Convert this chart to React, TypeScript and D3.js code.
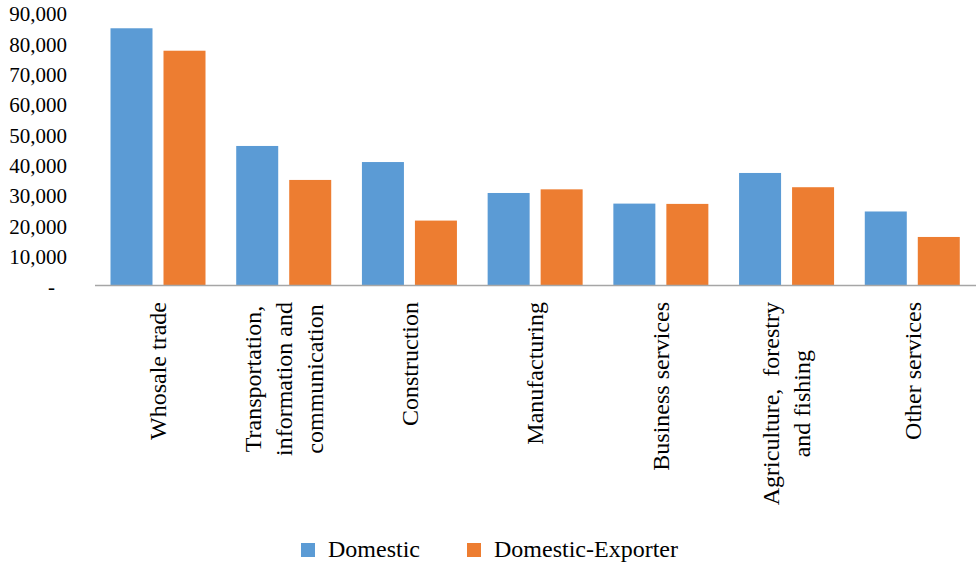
import React, { useEffect, useRef } from "react";
import * as d3 from "d3";

const categories: string[][] = [
  ["Whosale trade"],
  ["Transportation,", "information and", "communication"],
  ["Construction"],
  ["Manufacturing"],
  ["Business services"],
  ["Agriculture,  forestry", "and fishing"],
  ["Other services"],
];
const seriesNames = ["Domestic", "Domestic-Exporter"];
const domestic = [84800, 46000, 40700, 30500, 27000, 37100, 24400];
const domesticExporter = [77400, 34800, 21400, 31700, 26900, 32400, 16000];
const yTicks = [0, 10000, 20000, 30000, 40000, 50000, 60000, 70000, 80000, 90000];
const colors = ["#5b9bd5", "#ed7d31"];

const FONT = "'Liberation Serif', 'Times New Roman', serif";

export default function App() {
  const ref = useRef<SVGSVGElement | null>(null);

  useEffect(() => {
    const svg = d3.select(ref.current);
    svg.selectAll("*").remove();

    const W = 976;
    const baseY = 285.5;
    const y = d3.scaleLinear().domain([0, 90000]).range([baseY, 12.5]);
    const keys = categories.map((c) => c.join(" "));
    const x0 = d3.scaleBand<string>().domain(keys).range([95, 975]).padding(0);
    const x1 = d3
      .scaleBand<string>()
      .domain(seriesNames)
      .range([15.5, 110.5])
      .paddingInner(11 / 53)
      .paddingOuter(0);

    const data = [domestic, domesticExporter];

    // y tick labels
    svg
      .append("g")
      .selectAll("text")
      .data(yTicks)
      .join("text")
      .attr("x", (d) => (d === 0 ? 55 : 67))
      .attr("y", (d) => y(d) + 1.5)
      .attr("dy", "0.35em")
      .attr("text-anchor", "end")
      .attr("font-family", FONT)
      .attr("font-size", 21)
      .attr("fill", "#000")
      .text((d) => (d === 0 ? "-" : d3.format(",")(d)));

    // bars
    const groups = svg
      .append("g")
      .selectAll("g")
      .data(keys)
      .join("g")
      .attr("transform", (d) => `translate(${x0(d)},0)`);

    groups
      .selectAll("rect")
      .data((_, i) => seriesNames.map((s, si) => ({ s, si, v: data[si][i] })))
      .join("rect")
      .attr("x", (d) => x1(d.s)!)
      .attr("width", x1.bandwidth())
      .attr("y", (d) => y(d.v))
      .attr("height", (d) => baseY - y(d.v))
      .attr("fill", (d) => colors[d.si]);

    // axis line
    svg
      .append("line")
      .attr("x1", 95)
      .attr("x2", W)
      .attr("y1", baseY)
      .attr("y2", baseY)
      .attr("stroke", "#a6a6a6")
      .attr("stroke-width", 1.5);

    // category labels (rotated)
    const lineH = 31;
    const topY = 302;
    categories.forEach((lines, i) => {
      const cx = x0(keys[i])! + x0.bandwidth() / 2;
      const g = svg.append("g");
      const texts = g
        .selectAll("text")
        .data(lines)
        .join("text")
        .attr("font-family", FONT)
        .attr("font-size", 24)
        .attr("fill", "#000")
        .attr("text-anchor", "middle")
        .attr("dy", "0.35em")
        .style("white-space", "pre")
        .text((d) => d);
      let maxLen = 0;
      texts.each(function () {
        const l = (this as SVGTextElement).getComputedTextLength();
        if (l > maxLen) maxLen = l;
      });
      const cy = topY + maxLen / 2;
      texts.attr("transform", (_, li) => {
        const lx = cx + (li - (lines.length - 1) / 2) * lineH;
        return `translate(${lx},${cy}) rotate(-90)`;
      });
    });

    // legend
    const legendItems = [
      { name: seriesNames[0], x: 301, color: colors[0] },
      { name: seriesNames[1], x: 467, color: colors[1] },
    ];
    const lg = svg.append("g");
    legendItems.forEach((it) => {
      lg.append("rect")
        .attr("x", it.x)
        .attr("y", 543)
        .attr("width", 14)
        .attr("height", 14)
        .attr("fill", it.color);
      lg.append("text")
        .attr("x", it.x + 27)
        .attr("y", 557)
        .attr("font-family", FONT)
        .attr("font-size", 24)
        .attr("fill", "#000")
        .text(it.name);
    });
  }, []);

  return (
    <svg
      ref={ref}
      width={976}
      height={565}
      style={{ position: "absolute", left: 0, top: 0, background: "#fff" }}
    />
  );
}
